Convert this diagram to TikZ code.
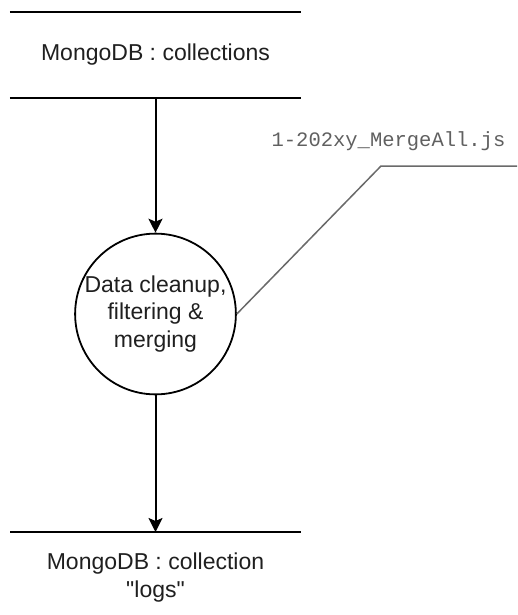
\documentclass[tikz,border=0pt]{standalone}
\usepackage{fontspec}
\setmainfont{Liberation Sans}[Ligatures=TeXOff]
\newfontfamily\codefont{Liberation Mono}
\usetikzlibrary{arrows.meta}
\definecolor{calloutgray}{HTML}{6A6A6A}
\definecolor{codegray}{HTML}{606060}
\tikzset{
  store/.style={rectangle, minimum width=291pt, minimum height=86pt, inner sep=0pt, font=\fontsize{23}{28}\selectfont, text=black!88},
  process/.style={circle, draw, line width=1.8pt, minimum size=156pt, inner sep=0pt, align=center, font=\fontsize{23}{27.5}\selectfont, text=black!88},
  flow/.style={line width=2pt, -{Stealth[length=14pt, width=14pt, inset=3pt]}},
  storeline/.style={line width=2pt},
  callout/.style={draw=calloutgray, line width=1.5pt},
  codelabel/.style={font=\codefont\fontsize{20.5}{24}\selectfont, text=codegray, inner sep=0pt}
}
\begin{document}
\begin{tikzpicture}[x=1pt, y=-1pt]
\useasboundingbox (0,0) rectangle (517,615);
\node[store] (top) at (155.5,55) {MongoDB : collections};
\draw[storeline] (top.north west) -- (top.north east);
\draw[storeline] (top.south west) -- (top.south east);
\node[process] (proc) at (155.5,314) {Data cleanup,\\filtering \&\\merging};
\node[store, minimum height=0pt, align=center] (bot) at (155.5,578) {MongoDB : collection\\"logs"};
\coordinate (botL) at (10,532);
\coordinate (botR) at (301,532);
\coordinate (botM) at (155.5,532);
\draw[storeline] (botL) -- (botR);
\draw[flow] (top.south) -- (proc.north);
\draw[flow] (proc.south) -- (botM);
\node[codelabel] (lbl) at (388.5,141) {1-202xy\_MergeAll.js};
\coordinate (knee) at (381,166);
\coordinate (tail) at (517,166);
\draw[callout] (proc.east) -- (knee) -- (tail);
\end{tikzpicture}
\end{document}
